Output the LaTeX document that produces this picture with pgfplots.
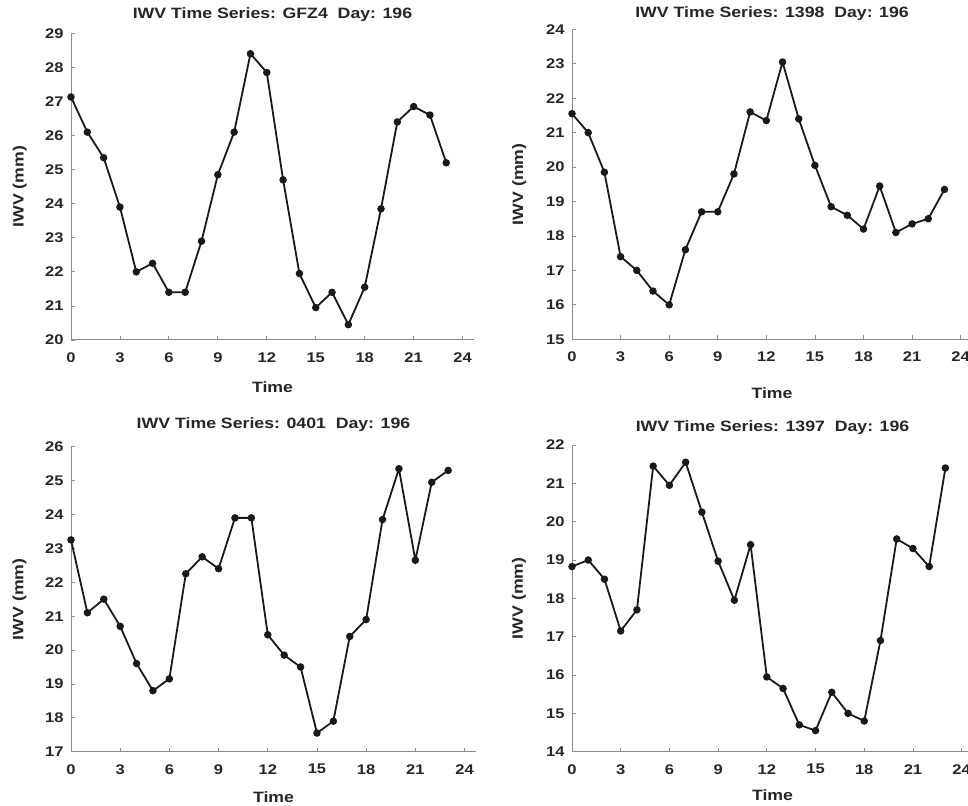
\documentclass[border=0pt]{standalone}
\usepackage{fontspec}
\setmainfont{Liberation Sans}[FakeStretch=1.18]
\usepackage{pgfplots}
\pgfplotsset{compat=1.18}
\pgfplotsset{
  ser/.style={draw=black!90, line width=1.8pt, mark=*, mark size=2.8pt, mark options={solid, draw=black!90, fill=black!90}},
  iwv/.style={
    scale only axis,
    anchor=south west,
    axis lines=left,
    axis line style={-, line width=1pt, draw=black!45},
    xmin=0, xmax=24.7,
    xtick={0,3,...,24},
    ytick distance=1,
    tick style={draw=black!45, line width=0.8pt},
    major tick length=4pt,
    tick align=inside,
    /pgf/number format/assume math mode=true,
    ticklabel style={font=\fontsize{14}{16}\selectfont\bfseries, text=black!85},
    xticklabel style={yshift=-9pt},
    yticklabel style={xshift=-4pt},
    label style={font=\fontsize{15}{18}\selectfont\bfseries, text=black!85},
    title style={font=\fontsize{15}{18}\selectfont\bfseries, text=black!85, anchor=base},
    xlabel={Time},
    ylabel={IWV (mm)},
  }
}
\begin{document}
\begin{tikzpicture}[x=1pt,y=1pt]
\useasboundingbox (0,0) rectangle (968,805);
% Panel 1
\begin{axis}[iwv, at={(71pt,465pt)}, width=403pt, height=306.7pt,
  ymin=20, ymax=29,
  title={IWV Time Series: GFZ4\ \ Day: 196},
  title style={at={(axis description cs:0.5,1)}, yshift=9pt},
  xlabel style={at={(axis description cs:0.5,-0.153)}, anchor=center},
  ylabel style={at={(axis description cs:-0.127,0.5)}, anchor=center}]
\addplot[ser] coordinates {(0,27.13) (1,26.1) (2,25.35) (3,23.9) (4,22.0) (5,22.25) (6,21.4) (7,21.4) (8,22.9) (9,24.85) (10,26.1) (11,28.4) (12,27.85) (13,24.7) (14,21.95) (15,20.95) (16,21.4) (17,20.45) (18,21.55) (19,23.85) (20,26.4) (21,26.85) (22,26.6) (23,25.2)};
\end{axis}
% Panel 2
\begin{axis}[iwv, at={(572pt,465.7pt)}, width=400pt, height=310pt,
  ymin=15, ymax=24,
  title={IWV Time Series: 1398\ \ Day: 196},
  title style={at={(axis description cs:0.5,1)}, yshift=6pt},
  xlabel style={at={(axis description cs:0.5,-0.174)}, anchor=center},
  ylabel style={at={(axis description cs:-0.132,0.5)}, anchor=center}]
\addplot[ser] coordinates {(0,21.55) (1,21.0) (2,19.85) (3,17.4) (4,17.0) (5,16.4) (6,16.0) (7,17.6) (8,18.7) (9,18.7) (10,19.8) (11,21.6) (12,21.35) (13,23.05) (14,21.4) (15,20.05) (16,18.85) (17,18.6) (18,18.2) (19,19.45) (20,18.1) (21,18.35) (22,18.5) (23,19.35)};
\end{axis}
% Panel 3
\begin{axis}[iwv, at={(71pt,53.3pt)}, width=405pt, height=305pt,
  ymin=17, ymax=26,
  title={IWV Time Series: 0401\ \ Day: 196},
  title style={at={(axis description cs:0.5,1)}, yshift=12pt},
  xlabel style={at={(axis description cs:0.5,-0.148)}, anchor=center},
  ylabel style={at={(axis description cs:-0.127,0.5)}, anchor=center}]
\addplot[ser] coordinates {(0,23.25) (1,21.1) (2,21.5) (3,20.7) (4,19.6) (5,18.8) (6,19.15) (7,22.25) (8,22.75) (9,22.4) (10,23.9) (11,23.9) (12,20.45) (13,19.85) (14,19.5) (15,17.55) (16,17.9) (17,20.4) (18,20.9) (19,23.85) (20,25.35) (21,22.65) (22,24.95) (23,25.3)};
\end{axis}
% Panel 4
\begin{axis}[iwv, at={(572pt,53.3pt)}, width=401pt, height=306.7pt,
  ymin=14, ymax=22,
  title={IWV Time Series: 1397\ \ Day: 196},
  title style={at={(axis description cs:0.5,1)}, yshift=8pt},
  xlabel style={at={(axis description cs:0.5,-0.143)}, anchor=center},
  ylabel style={at={(axis description cs:-0.132,0.5)}, anchor=center}]
\addplot[ser] coordinates {(0,18.83) (1,19.0) (2,18.5) (3,17.15) (4,17.7) (5,21.45) (6,20.95) (7,21.55) (8,20.25) (9,18.97) (10,17.95) (11,19.4) (12,15.95) (13,15.65) (14,14.7) (15,14.55) (16,15.55) (17,15.0) (18,14.8) (19,16.9) (20,19.55) (21,19.3) (22,18.83) (23,21.4)};
\end{axis}
\end{tikzpicture}
\end{document}
